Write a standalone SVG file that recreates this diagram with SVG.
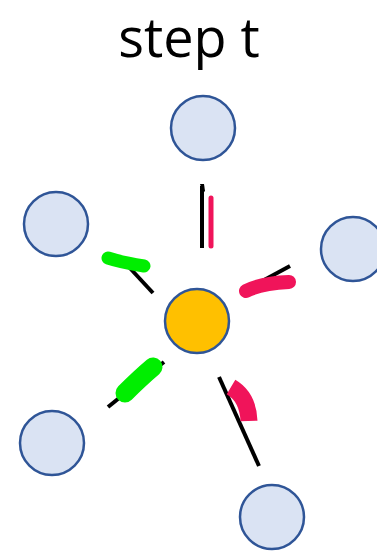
<svg xmlns="http://www.w3.org/2000/svg" width="377" height="555" viewBox="0 0 377 555">
<style>
.n{fill:#DAE3F3;stroke:#2F5597;stroke-width:2.5}
.c{fill:#FFC000;stroke:#2F5597;stroke-width:2.5}
.k{stroke:#000;stroke-width:4;fill:none;stroke-linecap:butt}
.p{stroke:#F0145A;fill:none;stroke-linecap:round}
.g{stroke:#00EE00;fill:none;stroke-linecap:round}
.t{font-family:"Open Sans","Liberation Sans",sans-serif;font-size:54px;fill:#000}
</style>
<rect width="377" height="555" fill="#fff"/>
<text class="t" x="189" y="57" text-anchor="middle">step t</text>
<g id="n-top"><circle class="n" cx="203" cy="128" r="32"/></g>
<g id="n-left"><circle class="n" cx="56" cy="224" r="32"/></g>
<g id="n-right"><circle class="n" cx="353" cy="249" r="32"/></g>
<g id="n-bl"><circle class="n" cx="52" cy="443" r="32"/></g>
<g id="n-br"><circle class="n" cx="272" cy="517" r="32"/></g>
<g id="n-center"><circle class="c" cx="197" cy="321" r="32"/></g>
<g id="connectors">
<path class="k" d="M202 186 L202 248"/>
<path d="M200 184 L204 184 L205 191 L203 193 Z" fill="#000"/>
<path class="p" stroke-width="5" d="M211 198 L211 246"/>
<path class="k" d="M128 266 L153 293"/>
<path class="g" stroke-width="13" d="M108 258 Q120 262 144 266"/>
<path class="k" d="M290 266 L242 292"/>
<path class="p" stroke-width="14" d="M246 291 Q262 283 289 282"/>
<path class="k" d="M108 407 L164 362"/>
<path class="g" stroke-width="19" d="M125 393 Q140 378 153 367"/>
<path class="k" d="M219 377 L259 466"/>
<path stroke="#F0145A" fill="none" stroke-width="17" d="M231 387 Q248 397 249 421"/>
</g>
</svg>
